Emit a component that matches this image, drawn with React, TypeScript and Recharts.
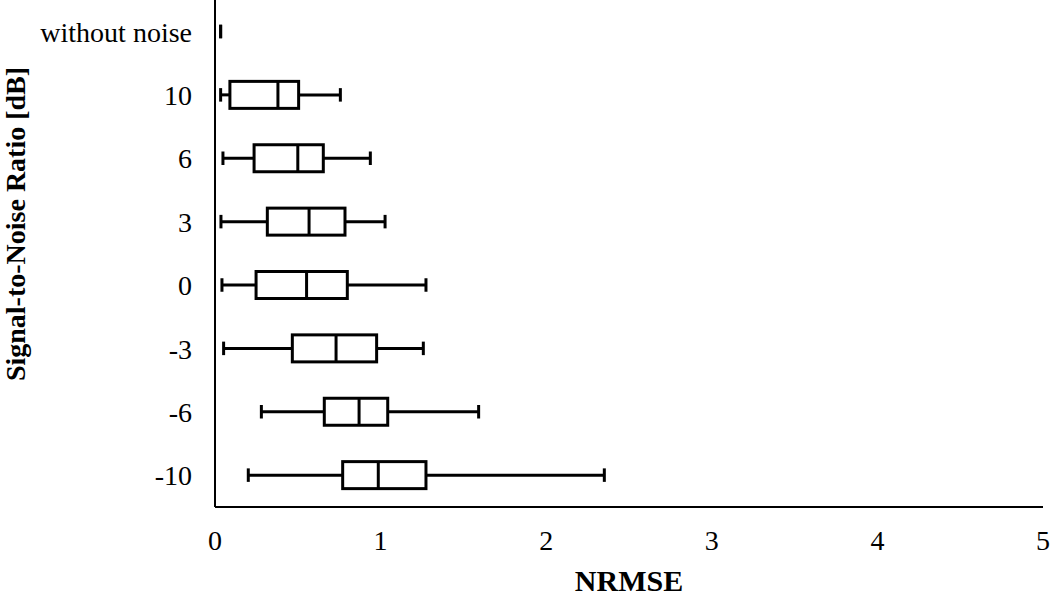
import React from 'react';
import { ComposedChart, Bar, XAxis, YAxis } from 'recharts';

const categories = ['without noise', '10', '6', '3', '0', '-3', '-6', '-10'];
const minValues = [0.034, 0.034, 0.048, 0.036, 0.042, 0.052, 0.28, 0.201];
const q1Values = [0.034, 0.09, 0.236, 0.316, 0.248, 0.467, 0.66, 0.771];
const medianValues = [0.034, 0.38, 0.5, 0.568, 0.553, 0.731, 0.87, 0.986];
const q3Values = [0.034, 0.505, 0.654, 0.785, 0.799, 0.976, 1.043, 1.274];
const maxValues = [0.034, 0.757, 0.938, 1.027, 1.274, 1.258, 1.592, 2.351];
const xTicks = [0, 1, 2, 3, 4, 5];

const data = categories.map((label, i) => ({
  label,
  min: minValues[i],
  q1: q1Values[i],
  median: medianValues[i],
  q3: q3Values[i],
  max: maxValues[i],
}));

const FONT = '"Liberation Serif", "Times New Roman", serif';
const SW = 3;

function BoxShape(props: any) {
  const { x, y, width, height, payload } = props;
  if (x == null || y == null) return null;
  const { min, q1, median, q3, max } = payload;
  const span = max - min;
  const px = (v: number) => (span > 0 ? x + ((v - min) / span) * width : x);
  const cy = y + height / 2;
  const capHalf = height / 4;
  const boxHalf = height / 2;
  const xMin = px(min);
  const xMax = px(max);
  const xQ1 = px(q1);
  const xQ3 = px(q3);
  const xMed = px(median);
  const hasBox = q3 - q1 > 0;
  return (
    <g stroke="#000" strokeWidth={SW} fill="none">
      {hasBox && <line x1={xMin} y1={cy} x2={xQ1} y2={cy} />}
      {hasBox && <line x1={xQ3} y1={cy} x2={xMax} y2={cy} />}
      <line x1={xMin} y1={cy - capHalf} x2={xMin} y2={cy + capHalf} />
      <line x1={xMax} y1={cy - capHalf} x2={xMax} y2={cy + capHalf} />
      {hasBox && (
        <rect x={xQ1} y={cy - boxHalf} width={xQ3 - xQ1} height={boxHalf * 2} fill="#fff" />
      )}
      {hasBox && <line x1={xMed} y1={cy - boxHalf} x2={xMed} y2={cy + boxHalf} />}
    </g>
  );
}

export default function App() {
  return (
    <div style={{ position: 'relative', width: 1050, height: 595, background: '#fff' }}>
      <style>{'body{margin:0;background:#fff;}'}</style>
      <ComposedChart
        width={1050}
        height={595}
        data={data}
        layout="vertical"
        margin={{ top: 0, right: 7, bottom: 0, left: 0 }}
      >
        <XAxis
          type="number"
          domain={[0, 5]}
          ticks={xTicks}
          interval={0}
          height={88}
          axisLine={{ stroke: '#000', strokeWidth: 2 }}
          tickLine={false}
          tickSize={0}
          tickMargin={23}
          tick={{ fill: '#000', fontSize: 28, fontFamily: FONT }}
        />
        <YAxis
          type="category"
          dataKey="label"
          width={215}
          interval={0}
          axisLine={{ stroke: '#000', strokeWidth: 2 }}
          tickLine={false}
          tickSize={0}
          tickMargin={23}
          tick={{ fill: '#000', fontSize: 28, fontFamily: FONT }}
        />
        <Bar
          dataKey={(d: any) => [d.min, d.max]}
          barSize={27}
          shape={BoxShape}
          isAnimationActive={false}
        />
      </ComposedChart>
      <div
        style={{
          position: 'absolute',
          left: 16,
          top: 224,
          transform: 'translate(-50%,-50%) rotate(-90deg)',
          whiteSpace: 'nowrap',
          lineHeight: 1.15,
          fontFamily: FONT,
          fontWeight: 'bold',
          fontSize: 28,
          color: '#000',
        }}
      >
        Signal-to-Noise Ratio [dB]
      </div>
      <div
        style={{
          position: 'absolute',
          left: 629,
          top: 581,
          transform: 'translate(-50%,-50%)',
          whiteSpace: 'nowrap',
          lineHeight: 1.15,
          fontFamily: FONT,
          fontWeight: 'bold',
          fontSize: 30,
          color: '#000',
        }}
      >
        NRMSE
      </div>
    </div>
  );
}
